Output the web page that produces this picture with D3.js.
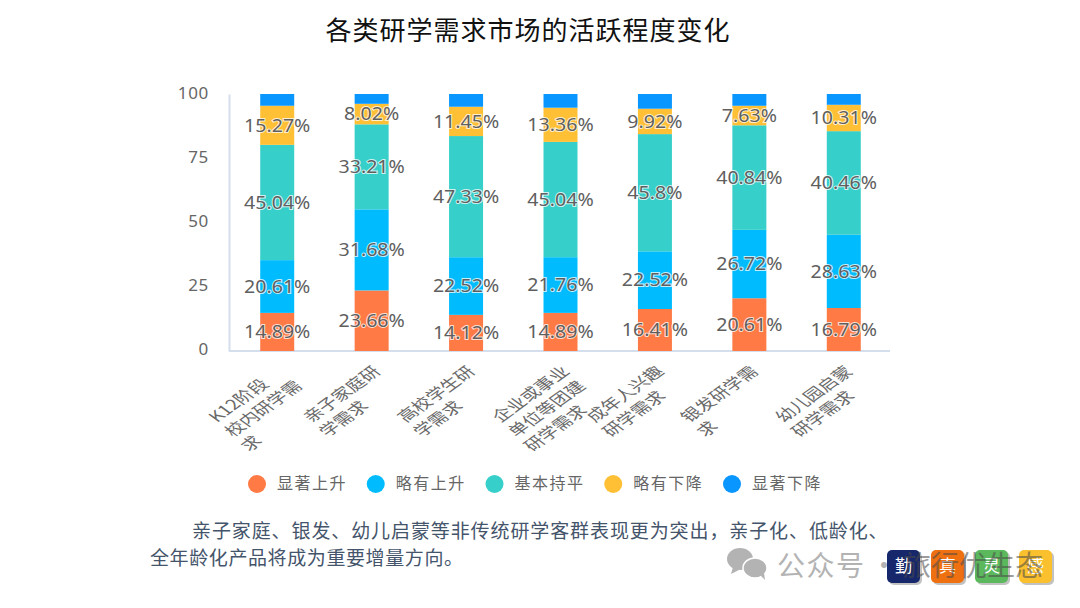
<!DOCTYPE html>
<html lang="zh">
<head>
<meta charset="utf-8">
<script src="https://cdn.jsdelivr.net/npm/d3@7/dist/d3.min.js"></script>
<style>
html,body{margin:0;padding:0;background:#fff}
svg{display:block}
text{font-family:"Noto Sans CJK SC","Noto Sans",sans-serif}
</style>
</head>
<body>
<svg id="c" width="1080" height="608"></svg>
<script>
const categories = [
  ["K12阶段","校内研学需","求"],
  ["亲子家庭研","学需求"],
  ["高校学生研","学需求"],
  ["企业或事业","单位等团建","研学需求"],
  ["成年人兴趣","研学需求"],
  ["银发研学需","求"],
  ["幼儿园启蒙","研学需求"]
];
const seriesNames = ["显著上升","略有上升","基本持平","略有下降","显著下降"];
const seriesColors = ["#ff7a45","#00bcff","#36cfc9","#ffc035","#0a96ff"];
const sharplyUp   = [14.89,23.66,14.12,14.89,16.41,20.61,16.79];
const slightlyUp  = [20.61,31.68,22.52,21.76,22.52,26.72,28.63];
const flat        = [45.04,33.21,47.33,45.04,45.8,40.84,40.46];
const slightlyDown= [15.27,8.02,11.45,13.36,9.92,7.63,10.31];
const sharplyDown = [4.59,3.83,4.98,5.35,5.75,4.6,4.21];
const yTicks = [0,25,50,75,100];
const titleText = "各类研学需求市场的活跃程度变化";
const noteLines = ["亲子家庭、银发、幼儿启蒙等非传统研学客群表现更为突出，亲子化、低龄化、","全年龄化产品将成为重要增量方向。"];
const badgeChars = ["勤","真","灵","感"];
const badgeColors = ["#16276b","#ee7010","#5cb85c","#fbc02d"];

const svg = d3.select("#c");
const allSeries = [sharplyUp,slightlyUp,flat,slightlyDown,sharplyDown];

const x = d3.scaleBand().domain(d3.range(categories.length)).range([230,891]).paddingInner(0.64).paddingOuter(0.32);
const y = d3.scaleLinear().domain([0,100.4]).range([351,94]);

// title
svg.append("text").attr("x",528).attr("y",40).attr("text-anchor","middle")
  .attr("font-size",26).attr("letter-spacing",1).attr("fill","#111").text(titleText);

// y axis
const yAxis = svg.append("g").attr("transform","translate(229,0)")
  .call(d3.axisLeft(y).tickValues(yTicks).tickSize(0).tickPadding(20));
yAxis.select(".domain").attr("stroke","#d5deec").attr("stroke-width",2);
yAxis.selectAll("text").attr("font-size",17).attr("letter-spacing",.7).attr("dy","0.22em").attr("fill","#666").style("font-family",'"Noto Sans",sans-serif');

// x axis baseline
svg.append("line").attr("x1",229).attr("x2",890).attr("y1",y(0)).attr("y2",y(0))
  .attr("stroke","#d5deec").attr("stroke-width",2);

// stacked bars
const rows = categories.map((c,i)=>{
  const row = {i};
  seriesNames.forEach((s,k)=>row[s]=allSeries[k][i]);
  return row;
});
const stacked = d3.stack().keys(seriesNames)(rows);
const layers = svg.append("g").selectAll("g").data(stacked).join("g")
  .attr("fill",(d,k)=>seriesColors[k]);
layers.selectAll("rect").data(d=>d).join("rect")
  .attr("x",d=>x(d.data.i)).attr("width",x.bandwidth())
  .attr("y",d=>y(d[1])).attr("height",d=>y(d[0])-y(d[1]));

// value labels (the top segment carries none)
const labelLayer = svg.append("g");
stacked.slice(0,4).forEach((layer,k)=>{
  layer.forEach(d=>{
    const cx = x(d.data.i)+x.bandwidth()/2, cy = y((d[0]+d[1])/2);
    labelLayer.append("text")
      .attr("transform",`translate(${cx},${cy}) scale(1.12,1)`)
      .attr("text-anchor","middle").attr("dy","0.36em")
      .attr("font-size",17.5).attr("fill","#5f5f5f")
      .attr("stroke","#fff").attr("stroke-width",2).attr("stroke-opacity",0.75).attr("paint-order","stroke")
      .style("font-family",'"Noto Sans",sans-serif')
      .text(allSeries[k][d.data.i]+"%");
  });
});

// rotated category labels, widened along x like the rest of the chart
categories.forEach((lines,i)=>{
  const cx = x(i)+x.bandwidth()/2;
  lines.forEach((t,j)=>{
    svg.append("text")
      .attr("transform",`translate(${cx-60+j*16},${423+j*14.5}) scale(1.39,1) rotate(-45)`)
      .attr("font-size",14.3).attr("fill","#6a6a6a").text(t);
  });
});

// legend
const legendX = d3.scalePoint().domain(seriesNames).range([257,732]);
seriesNames.forEach((s,k)=>{
  const lx = legendX(s);
  svg.append("circle").attr("cx",lx).attr("cy",484).attr("r",9).attr("fill",seriesColors[k]);
  svg.append("text").attr("x",lx+20).attr("y",489).attr("font-size",16).attr("letter-spacing",1.5).attr("fill","#666").text(s);
});

// closing note
svg.append("text").attr("x",192).attr("y",538).attr("font-size",19).attr("letter-spacing",.9).attr("fill","#44546a").text(noteLines[0]);
svg.append("text").attr("x",150).attr("y",565).attr("font-size",19).attr("letter-spacing",.6).attr("fill","#44546a").text(noteLines[1]);

// account mark
const mark = svg.append("g").attr("fill","#b3b3b3");
mark.append("ellipse").attr("cx",740).attr("cy",559).attr("rx",13).attr("ry",11);
mark.append("path").attr("d","M733 567l-2 7 8-4z");
mark.append("ellipse").attr("cx",755).attr("cy",568).attr("rx",12).attr("ry",10).attr("stroke","#fff").attr("stroke-width",1.5);
mark.append("path").attr("d","M760 575l5 5-1-7z");
svg.append("text").attr("x",777).attr("y",576).attr("font-size",28).attr("letter-spacing",1.5).attr("fill","#b3b3b3").text("公众号");
svg.append("text").attr("x",870).attr("y",576).attr("font-size",28).attr("fill","#b3b3b3").text("·");

// badges
const badgeX = d3.scalePoint().domain(badgeChars).range([887,1019]);
badgeChars.forEach((c,k)=>{
  svg.append("rect").attr("x",badgeX(c)+2).attr("y",552).attr("width",33).attr("height",33).attr("rx",5).attr("fill","#999").attr("opacity",.6);
  svg.append("rect").attr("x",badgeX(c)).attr("y",550).attr("width",33).attr("height",33).attr("rx",5).attr("fill",badgeColors[k]);
  svg.append("text").attr("x",badgeX(c)+16.5).attr("y",572).attr("text-anchor","middle").attr("font-size",17).attr("fill","#fff").text(c);
});
svg.append("text").attr("x",903).attr("y",576).attr("font-size",28).attr("fill","#4a4a4a").attr("opacity",.55).text("旅行优生态");
</script>
</body>
</html>
